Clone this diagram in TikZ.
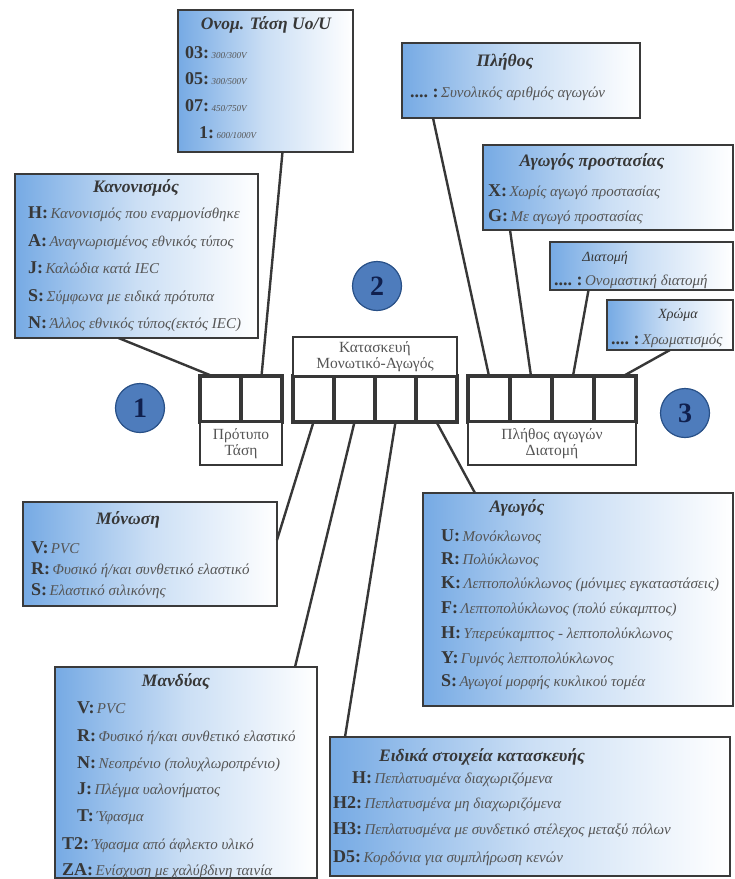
\documentclass[tikz,border=0pt]{standalone}
\usepackage{fontspec}
\setmainfont{Liberation Serif}
\usetikzlibrary{calc,positioning}

\definecolor{boxblue}{RGB}{118,170,228}
\definecolor{boxline}{RGB}{58,58,58}
\definecolor{cellline}{RGB}{55,55,55}
\definecolor{circblue}{RGB}{78,124,188}
\definecolor{circline}{RGB}{40,80,135}
\definecolor{navy}{RGB}{16,32,78}
\definecolor{codegray}{RGB}{55,55,55}
\definecolor{descgray}{RGB}{85,85,85}

\tikzset{
  infobox/.style={draw=boxline,line width=1.6pt,left color=boxblue,right color=white,
    middle color=boxblue!38,inner sep=0pt,outer sep=0pt,anchor=north west},
  hd/.style={font=\fontsize{17.5}{19}\selectfont\bfseries\itshape,text=codegray},
  code/.style={font=\fontsize{18}{20}\selectfont\bfseries,text=codegray,anchor=base west,inner sep=0pt},
  desc/.style={font=\fontsize{15}{17}\selectfont\itshape,text=descgray,anchor=base west,
    inner xsep=2pt,inner ysep=0pt},
  cell/.style={draw=cellline,line width=3.5pt,fill=white,minimum width=41,minimum height=46,
    inner sep=0pt,outer sep=0pt,anchor=north west},
  tag/.style={draw=cellline,line width=1.5pt,fill=white,inner sep=0pt,outer sep=0pt,
    align=center,font=\fontsize{15.5}{16.5}\selectfont,text=descgray},
  badge/.style={circle,draw=circline,line width=1.2pt,fill=circblue,minimum size=49,
    inner sep=0pt,font=\fontsize{28}{30}\selectfont\bfseries,text=navy},
  link/.style={draw=cellline,line width=2.4pt},
}
% one line of a legend box: code letter, then its meaning
\newcommand\entry[5][]{%
  \node[code] (#2) at (#3) {#4};
  \node[desc,#1] (#2t) at (#2.base east) {#5};}

\begin{document}
\begin{tikzpicture}[x=1pt,y=-1pt]
  \useasboundingbox (0,0) rectangle (735,879);

  % code cells
  \node[cell] (c11) at (200,376) {};
  \node[cell,right=0pt of c11] (c12) {};
  \node[cell] (c21) at (293,376) {};
  \node[cell,right=0pt of c21] (c22) {};
  \node[cell,right=0pt of c22] (c23) {};
  \node[cell,right=0pt of c23] (c24) {};
  \node[cell,minimum width=42] (c31) at (468,376) {};
  \node[cell,minimum width=42,right=0pt of c31] (c32) {};
  \node[cell,minimum width=42,right=0pt of c32] (c33) {};
  \node[cell,minimum width=42,right=0pt of c33] (c34) {};

  % group labels
  \node[tag,anchor=north west,minimum width=82,minimum height=43] (l1) at (c11.south west) {Πρότυπο\\Τάση};
  \node[tag,anchor=south west,minimum width=164,minimum height=39] (l2) at (c21.north west) {Κατασκευή\\Μονωτικό-Αγωγός};
  \node[tag,anchor=north west,minimum width=168,minimum height=43] (l3) at (c31.south west) {Πλήθος αγωγών\\Διατομή};

  % numbered badges
  \node[badge] (b1) at (140,408) {1};
  \node[badge] (b2) at (377,286) {2};
  \node[badge] (b3) at (685,413) {3};

  % nominal voltage
  \node[infobox,minimum width=175,minimum height=142] (onom) at (178,10) {};
  \node[hd] (onomhd) at (266,25) {Ονομ. Τάση Uo/U};
  \entry[font=\fontsize{9}{10}\selectfont\itshape]{o1}{185,58}{03:}{300/300V}
  \entry[font=\fontsize{9}{10}\selectfont\itshape]{o2}{185,84}{05:}{300/500V}
  \entry[font=\fontsize{9}{10}\selectfont\itshape]{o3}{185,111}{07:}{450/750V}
  \entry[font=\fontsize{9}{10}\selectfont\itshape]{o4}{199,138}{1:}{600/1000V}

  % standard
  \node[infobox,minimum width=243,minimum height=164] (kan) at (15,174) {};
  \node[hd] (kanhd) at (136,188) {Κανονισμός};
  \entry{k1}{28,218}{H:}{Κανονισμός που εναρμονίσθηκε}
  \entry{k2}{28,246}{A:}{Αναγνωρισμένος εθνικός τύπος}
  \entry{k3}{28,273}{J:}{Καλώδια κατά IEC}
  \entry{k4}{28,301}{S:}{Σύμφωνα με ειδικά πρότυπα}
  \entry{k5}{28,328}{N:}{Άλλος εθνικός τύπος(εκτός IEC)}

  % number of cores
  \node[infobox,minimum width=238,minimum height=75] (plith) at (402,43) {};
  \node[hd] (plithhd) at (505,62) {Πλήθος};
  \entry{p1}{410,97}{....\ :}{Συνολικός αριθμός αγωγών}

  % protective conductor
  \node[infobox,minimum width=250,minimum height=85] (prot) at (483,145) {};
  \node[hd] (prothd) at (592,162) {Αγωγός προστασίας};
  \entry{g1}{488,196}{X:}{Χωρίς αγωγό προστασίας}
  \entry{g2}{488,221}{G:}{Με αγωγό προστασίας}

  % cross section
  \node[infobox,minimum width=183,minimum height=48] (diat) at (550,242) {};
  \node[hd,font=\fontsize{14}{16}\selectfont\itshape] (diathd) at (605,258) {Διατομή};
  \entry{d1}{554,285}{....\ :}{Ονομαστική διατομή}

  % colour
  \node[infobox,minimum width=126,minimum height=50] (xrwma) at (607,300) {};
  \node[hd,font=\fontsize{14}{16}\selectfont\itshape] (xrwmahd) at (678,315) {Χρώμα};
  \entry{x1}{611,344}{....\ :}{Χρωματισμός}

  % insulation
  \node[infobox,minimum width=254,minimum height=104] (monosi) at (23,502) {};
  \node[hd] (monosihd) at (128,520) {Μόνωση};
  \entry{m1}{31,553}{V:}{PVC}
  \entry{m2}{31,574}{R:}{Φυσικό ή/και συνθετικό ελαστικό}
  \entry{m3}{31,595}{S:}{Ελαστικό σιλικόνης}

  % sheath
  \node[infobox,minimum width=262,minimum height=211] (mandyas) at (55,667) {};
  \node[hd] (mandyashd) at (176,682) {Μανδύας};
  \entry{s1}{77,713}{V:}{PVC}
  \entry{s2}{77,741}{R:}{Φυσικό ή/και συνθετικό ελαστικό}
  \entry{s3}{77,768}{N:}{Νεοπρένιο (πολυχλωροπρένιο)}
  \entry{s4}{77,794}{J:}{Πλέγμα υαλονήματος}
  \entry{s5}{77,821}{T:}{Ύφασμα}
  \entry{s6}{62,849}{T2:}{Ύφασμα από άφλεκτο υλικό}
  \entry{s7}{62,875}{ZA:}{Ενίσχυση με χαλύβδινη ταινία}

  % conductor
  \node[infobox,minimum width=310,minimum height=213] (agogos) at (423,493) {};
  \node[hd] (agogoshd) at (517,508) {Αγωγός};
  \entry{a1}{441,541}{U:}{Μονόκλωνος}
  \entry{a2}{441,564}{R:}{Πολύκλωνος}
  \entry{a3}{441,588}{K:}{Λεπτοπολύκλωνος (μόνιμες εγκαταστάσεις)}
  \entry{a4}{441,613}{F:}{Λεπτοπολύκλωνος (πολύ εύκαμπτος)}
  \entry{a5}{441,638}{H:}{Υπερεύκαμπτος - λεπτοπολύκλωνος}
  \entry{a6}{441,663}{Y:}{Γυμνός λεπτοπολύκλωνος}
  \entry{a7}{441,686}{S:}{Αγωγοί μορφής κυκλικού τομέα}

  % special construction
  \node[infobox,minimum width=400,minimum height=139] (eidika) at (330,737) {};
  \node[hd] (eidikahd) at (482,757) {Ειδικά στοιχεία κατασκευής};
  \entry{e1}{352,783}{H:}{Πεπλατυσμένα διαχωριζόμενα}
  \entry{e2}{333,808}{H2:}{Πεπλατυσμένα μη διαχωριζόμενα}
  \entry{e3}{333,834}{H3:}{Πεπλατυσμένα με συνδετικό στέλεχος μεταξύ πόλων}
  \entry{e4}{333,862}{D5:}{Κορδόνια για συμπλήρωση κενών}

  % leaders from the legend boxes to the cells
  \draw[link] ($(onom.south)+(17,0)$) -- (c12.north);
  \draw[link] ($(kan.south)+(-18,0)$) -- (c11.110);
  \draw[link] ($(plith.south)+(-88,0)$) -- (c31.north);
  \draw[link] ($(prot.south)+(-98,0)$) -- (c32.north);
  \draw[link] ($(diat.south)+(-53,0)$) -- (c33.north);
  \draw[link] (xrwma.south) -- (c34.70);
  \draw[link] (c21.south) -- ($(monosi.east)+(0,-14)$);
  \draw[link] (c22.south) -- ($(mandyas.north)+(109,0)$);
  \draw[link] (c23.south) -- ($(eidika.north)+(-185,0)$);
  \draw[link] (c24.south) -- ($(agogos.north)+(-103,0)$);
\end{tikzpicture}
\end{document}
